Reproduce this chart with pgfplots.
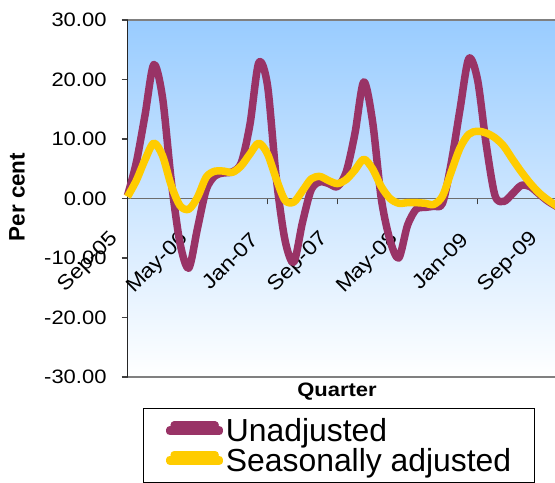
\documentclass[border=0pt]{standalone}
\usepackage{fontspec}
\setmainfont{Liberation Sans}
\newfontfamily\widefont[FakeStretch=1.13]{Liberation Sans}
\usepackage{pgfplots}
\usepackage{pgfplotstable}
\pgfplotsset{compat=1.18}

\definecolor{unadj}{RGB}{153,51,102}
\definecolor{sadj}{RGB}{255,204,0}
\definecolor{skytop}{RGB}{153,204,255}
\definecolor{framegray}{RGB}{128,128,128}

% Monthly growth, per cent (month 0 = Sep-05)
\pgfplotstableread{
m  unadj  sadj
0   0.5   0.3
1   6.0   3.0
2  14.0   6.5
3  22.5   9.3
4  17.0   7.2
5   3.0   2.2
6  -7.5  -1.2
7 -11.7  -1.8
8  -5.0   0.2
9   1.5   3.6
10  3.8   4.6
11  4.3   4.6
12  4.5   4.4
13  6.0   5.5
14 12.5   7.5
15 22.8   9.3
16 19.0   7.5
17  3.5   3.3
18 -7.0  -0.3
19 -10.7 -0.6
20 -4.0   1.3
21  1.5   3.3
22  2.8   3.7
23  2.5   3.0
24  2.0   2.5
25  4.5   3.2
26 11.0   4.8
27 19.6   6.6
28 13.0   5.0
29  0.0   2.0
30 -7.0   0.0
31 -10.0 -0.8
32 -4.5  -0.7
33 -1.8  -0.7
34 -1.5  -0.8
35 -1.3  -1.0
36 -0.8   0.4
37  6.0   4.5
38 15.0   8.5
39 23.5  10.8
40 20.0  11.3
41  9.0  11.0
42  0.5  10.2
43 -0.5   8.8
44  0.8   6.6
45  2.2   4.5
46  2.0   2.6
47  0.8   1.0
48 -0.4  -0.2
49 -1.3  -1.2
50 -2.0  -2.2
}\growth

\begin{document}
\begin{tikzpicture}
\begin{axis}[
  set layers,
  at={(0,0)}, anchor=south west,
  scale only axis, width=432bp, height=357bp,
  xmin=0, xmax=49.37, ymin=-30, ymax=30,
  clip=false,
  axis x line=middle, axis y line=left,
  axis line style={-},
  x axis line style={draw=framegray!85!black, line width=1.5bp},
  y axis line style={draw=black!85, line width=1.4bp},
  tick align=outside,
  major tick length=6bp,
  tick style={draw=black!75, line width=1.2bp},
  xtick={0,8,...,48},
  xticklabels={Sep-05,May-06,Jan-07,Sep-07,May-08,Jan-09,Sep-09},
  ytick={-30,-20,...,30},
  hide obscured x ticks=false, hide obscured y ticks=false,
  /pgf/number format/assume math mode=true,
  ticklabel style={font=\widefont\fontsize{19.5}{20}\selectfont,
                   /pgfplots/on layer=axis foreground},
  yticklabel style={xshift=-11.5bp,
                    /pgf/number format/fixed,
                    /pgf/number format/fixed zerofill,
                    /pgf/number format/precision=2},
  xticklabel style={font=\widefont\fontsize{20.5}{21}\selectfont,
                    xshift=-10bp, yshift=-29bp, rotate=45, anchor=east},
  axis background/.style={shade, top color=skytop, bottom color=white},
  every axis x label/.style={at={(axis description cs:0.485,-0.042)}, anchor=center},
  every axis y label/.style={at={(axis description cs:-0.2558,0.504)}, rotate=90, anchor=center},
  xlabel={Quarter}, ylabel={Per cent},
  xlabel style={font=\widefont\bfseries\fontsize{19.5}{20}\selectfont},
  ylabel style={font=\bfseries\fontsize{22.5}{24}\selectfont},
  legend style={
    at={(axis description cs:0.0359,-0.0868)}, anchor=north west,
    draw=black, line width=0.8bp,
    font=\fontsize{32}{30}\selectfont,
    inner xsep=23bp, inner ysep=10bp,
    nodes={inner sep=0pt},
    column sep=3bp, row sep=5bp,
    cells={anchor=west},
  },
  legend image code/.code={
    \path (0bp,-1bp) rectangle (49bp,1bp);
    \draw[#1, line cap=round] (4bp,5.5bp) -- (45bp,5.5bp);
  },
]
\draw[framegray, line width=2bp] (rel axis cs:0,1) -- (rel axis cs:1,1);
\draw[framegray, line width=1.5bp] (rel axis cs:0,0) -- (rel axis cs:1,0);
\addplot[unadj, line width=7.5bp, smooth, tension=0.5, line join=round] table[x=m, y=unadj] {\growth};
\addlegendentry{Unadjusted}
\addplot[sadj, line width=7.5bp, smooth, tension=0.5, line join=round] table[x=m, y=sadj] {\growth};
\addlegendentry{Seasonally adjusted}
\end{axis}
% fix the page to the chart frame; the right edge and the legend foot run off it
\pgfresetboundingbox
\useasboundingbox (-127.5bp,-106bp) rectangle (427.5bp,377bp);
\end{tikzpicture}
\end{document}
